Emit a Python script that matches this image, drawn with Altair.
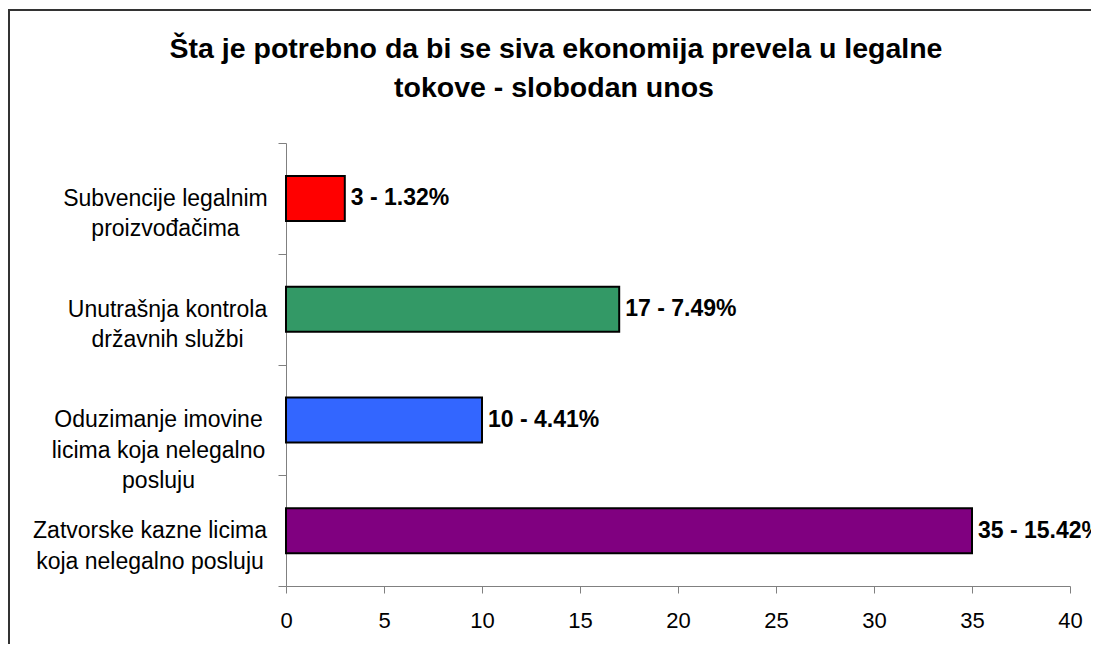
import altair as alt
import pandas as pd

categories = [
    "Subvencije legalnim|proizvođačima",
    "Unutrašnja kontrola|državnih službi",
    "Oduzimanje imovine|licima koja nelegalno|posluju",
    "Zatvorske kazne licima|koja nelegalno posluju",
]
counts = [3, 17, 10, 35]
percents = ["1.32", "7.49", "4.41", "15.42"]
colors = ["#FF0000", "#339966", "#3366FF", "#800080"]
x_ticks = [0, 5, 10, 15, 20, 25, 30, 35, 40]
title_lines = ["Šta je potrebno da bi se siva ekonomija prevela u legalne", "tokove - slobodan unos"]

# label block padding (centred lines, block right-aligned next to the axis)
label_pads = [113, 111, 120, 128.5]

df = pd.DataFrame({
    "category": categories,
    "count": counts,
    "label": [f"{c} - {p}%" for c, p in zip(counts, percents)],
})

FONT = "Liberation Sans"

pad_condition = {
    "condition": [
        {"test": f"datum.value == '{cat}'", "value": pad}
        for cat, pad in zip(categories[1:], label_pads[1:])
    ],
    "value": label_pads[0],
}

y_enc = alt.Y(
    "category:N",
    sort=categories,
    scale=alt.Scale(paddingInner=0, paddingOuter=0),
    axis=alt.Axis(
        title=None,
        grid=False,
        tickBand="extent",
        tickSize=8,
        tickColor="#808080",
        domainColor="#808080",
        labelAlign="center",
        labelBaseline="middle",
        labelPadding=pad_condition,
        labelFontSize=23,
        labelFont=FONT,
        labelColor="#000000",
        labelLineHeight=30.5,
        labelLimit=400,
        labelExpr="split(datum.label, '|')",
    ),
)

x_enc = alt.X(
    "count:Q",
    scale=alt.Scale(domain=[0, 40], nice=False, zero=True),
    axis=alt.Axis(
        title=None,
        values=x_ticks,
        grid=False,
        tickSize=7,
        tickColor="#808080",
        domainColor="#808080",
        labelPadding=17,
        labelFontSize=22,
        labelFont=FONT,
        labelColor="#000000",
        labelFlush=False,
    ),
)

bars = alt.Chart(df).mark_bar(size=45, stroke="#000000", strokeWidth=2).encode(
    y=y_enc,
    x=x_enc,
    color=alt.Color("category:N", scale=alt.Scale(domain=categories, range=colors), legend=None),
)

texts = alt.Chart(df).mark_text(
    align="left", baseline="middle", dx=6, fontSize=23, fontWeight="bold", font=FONT, color="#000000", clip=False
).encode(
    y=alt.Y("category:N", sort=categories),
    x=alt.X("count:Q"),
    text="label:N",
)

frame = alt.Chart(pd.DataFrame({"f": [0]})).mark_rect(
    fill="transparent", stroke="#333333", strokeWidth=2, clip=False
).encode(
    x=alt.value(-277),
    x2=alt.value(900),
    y=alt.value(-133),
    y2=alt.value(600),
)

title_df = pd.DataFrame({"line": title_lines})

title1 = alt.Chart(title_df).transform_filter(
    alt.datum.line == title_lines[0]
).mark_text(
    align="center", baseline="alphabetic", fontSize=28.5, fontWeight="bold", font=FONT, color="#000000", clip=False
).encode(x=alt.value(270), y=alt.value(-85), text="line:N")

title2 = alt.Chart(title_df).transform_filter(
    alt.datum.line == title_lines[1]
).mark_text(
    align="center", baseline="alphabetic", fontSize=28.5, fontWeight="bold", font=FONT, color="#000000", clip=False
).encode(x=alt.value(268), y=alt.value(-46.5), text="line:N")

chart = alt.layer(frame, bars, texts, title1, title2).properties(
    width=784,
    height=443,
    background="#FFFFFF",
    autosize=alt.AutoSizeParams(type="none"),
    padding={"left": 278, "top": 135, "right": 21, "bottom": 58},
).configure_view(strokeWidth=0, stroke="transparent").configure_axis(grid=False)

chart.save("out.html", embed_options={"renderer": "svg", "actions": False})
